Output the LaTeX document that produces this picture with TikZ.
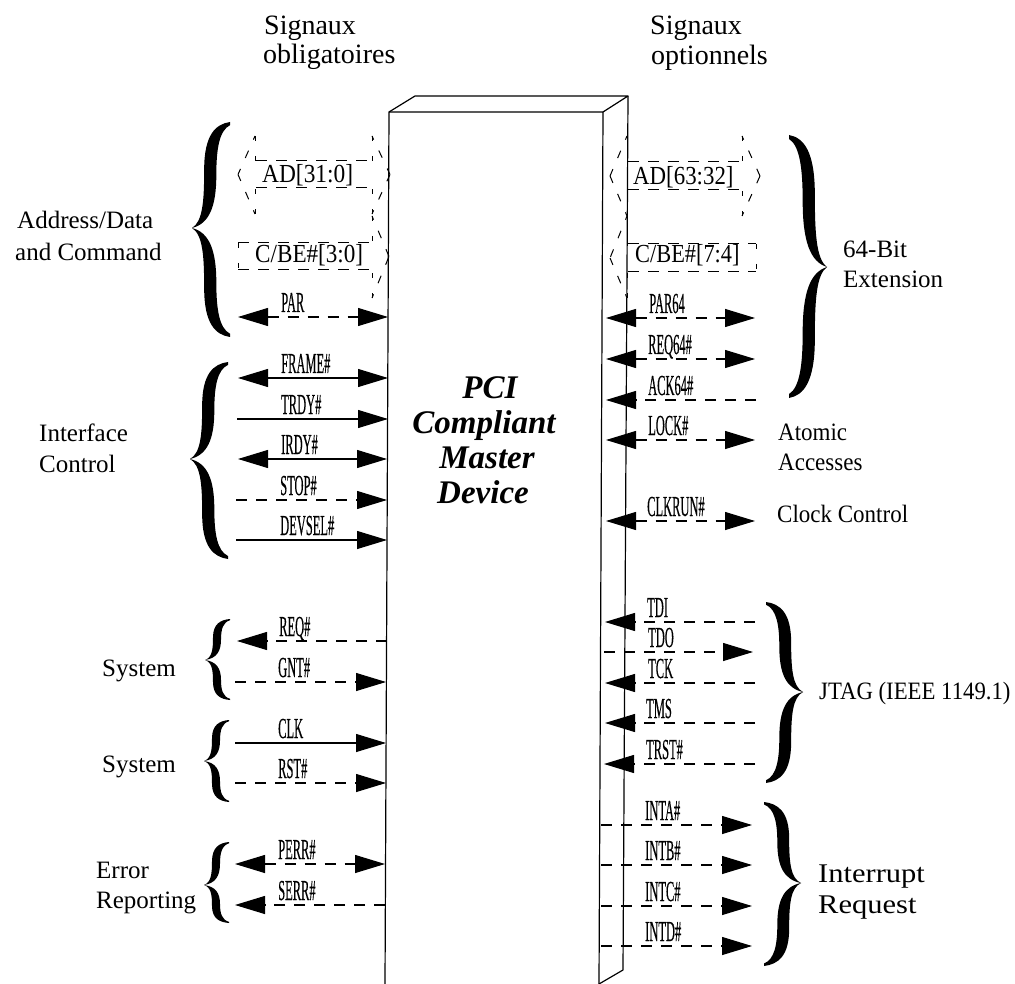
\documentclass[tikz,border=0pt]{standalone}
\usepackage{graphicx}
\usepackage{fontspec}
\setmainfont{Liberation Serif}
\newfontfamily\sigfont[FakeBold=0.5]{Liberation Serif}
\usetikzlibrary{arrows.meta}
\tikzset{
  >={Triangle[length=30pt,width=18pt]},
  wire/.style={line width=1.1pt},
  dashwire/.style={wire,dash pattern=on 11pt off 9pt},
  boxline/.style={line width=1.2pt,line join=round},
  hrun/.style={line width=1pt,dash pattern=on 11pt off 9pt},
  vrun/.style={line width=1pt,dash pattern=on 5pt off 15pt},
  srun/.style={line width=1pt,dash pattern=on 8pt off 12pt,dash phase=4pt},
  siglabel/.style={anchor=base west,inner sep=0pt,font=\fontsize{29}{29}\sigfont},
  txt/.style={anchor=base west,inner sep=0pt,font=\fontsize{25}{25}\selectfont},
  headtxt/.style={anchor=base west,inner sep=0pt,font=\fontsize{28}{28}\selectfont},
  bigsig/.style={anchor=base west,inner sep=0pt,font=\fontsize{26}{26}\selectfont},
  titletxt/.style={anchor=base,inner sep=0pt,font=\fontsize{33}{33}\selectfont\bfseries\itshape}
}
% name, x1, x2, y, arrow/line style, label x, label
\newcommand{\sigrow}[7]{%
  \coordinate (#1-a) at (#2,#4);
  \coordinate (#1-b) at (#3,#4);
  \draw[#5] (#1-a) -- (#1-b);
  \node[siglabel] (#1-l) at (#6,#4-5) {\scalebox{.43}[1]{#7}};
}
% one half of a curly brace in unit coordinates
\newcommand{\curlyhalf}{%
  \fill (1,-1) .. controls (.62,-.98) and (.32,-.88) .. (.32,-.55)
    .. controls (.32,-.25) and (.28,-.06) .. (0,0)
    .. controls (.45,-.04) and (.64,-.2) .. (.64,-.5)
    .. controls (.64,-.75) and (.72,-.92) .. (1,-.97) -- cycle;
}
% tip x, tip y, end x, top y, bottom y
\newcommand{\curly}[5]{%
  \pgfmathsetmacro{\cdx}{#3-#1}
  \pgfmathsetmacro{\cup}{#2-#4}
  \pgfmathsetmacro{\cdn}{#2-#5}
  \begin{scope}[shift={(#1,#2)},xscale=\cdx,yscale=\cup]\curlyhalf\end{scope}
  \begin{scope}[shift={(#1,#2)},xscale=\cdx,yscale=\cdn]\curlyhalf\end{scope}
}
% barb x, tip x, barb top, notch top, notch bottom, barb bottom
\newcommand{\arrowcap}[6]{%
  \pgfmathsetmacro{\cmid}{(#4+#5)/2}
  \draw[vrun] (#1,#3) -- (#1,#4);
  \draw[vrun] (#1,#6) -- (#1,#5);
  \draw[srun] (#1,#3) -- (#2,\cmid);
  \draw[srun] (#1,#6) -- (#2,\cmid);
}
\begin{document}
\begin{tikzpicture}[x=1pt,y=-1pt]
\path (0,0) rectangle (1015,984);
\clip (0,0) rectangle (1015,984);

% device
\coordinate (tl) at (389,112);
\coordinate (tr) at (603,112);
\coordinate (bl) at (385,984);
\coordinate (br) at (599,984);
\coordinate (btl) at (415,96);
\coordinate (btr) at (628,96);
\coordinate (bbr) at (623,970);
\draw[boxline] (bl) -- (tl) -- (tr) -- (br);
\draw[boxline] (tl) -- (btl) -- (btr) -- (tr);
\draw[boxline] (btr) -- (bbr) -- (br);

\node[titletxt] (t1) at (490,399) {PCI};
\node[titletxt] (t2) at (484,433) {Compliant};
\node[titletxt] (t3) at (487,468) {Master};
\node[titletxt] (t4) at (483,503) {Device};

% left block arrows
\arrowcap{255}{238}{136}{161}{188}{214}
\arrowcap{372}{390}{136}{161}{188}{214}
\draw[hrun] (256,161) -- (372,161);
\draw[hrun] (256,188) -- (372,188);
\node[bigsig] (ad31) at (262,183) {\scalebox{.9}[1]{AD[31:0]}};
\arrowcap{372}{389}{216}{243}{270}{298}
\draw[hrun] (238,243) -- (372,243);
\draw[hrun] (238,270) -- (372,270);
\draw[vrun] (238,243) -- (238,270);
\node[bigsig] (cbe3) at (255,263) {\scalebox{.89}[1]{C/BE\#[3:0]}};

% right block arrows
\arrowcap{627}{610}{136}{162}{190}{216}
\arrowcap{742}{760}{136}{162}{190}{216}
\draw[hrun] (628,162) -- (742,162);
\draw[hrun] (628,190) -- (742,190);
\node[bigsig] (ad63) at (633,185) {\scalebox{.88}[1]{AD[63:32]}};
\arrowcap{627}{610}{216}{244}{272}{298}
\draw[hrun] (628,244) -- (756,244);
\draw[hrun] (628,272) -- (756,272);
\draw[vrun] (756,244) -- (756,272);
\node[bigsig] (cbe7) at (635,263) {\scalebox{.86}[1]{C/BE\#[7:4]}};

% left signals
\sigrow{par}{238}{388}{317}{dashwire,<->}{281}{PAR}
\sigrow{frame}{238}{388}{378}{wire,<->}{281}{FRAME\#}
\sigrow{trdy}{237}{388}{419}{wire,->}{281}{TRDY\#}
\sigrow{irdy}{238}{387}{459}{wire,<->}{281}{IRDY\#}
\sigrow{stop}{236}{387}{500}{dashwire,->}{280}{STOP\#}
\sigrow{devsel}{236}{387}{540}{wire,->}{280}{DEVSEL\#}
\sigrow{req}{387}{237}{641}{dashwire,->}{279}{REQ\#}
\sigrow{gnt}{235}{386}{682}{dashwire,->}{278}{GNT\#}
\sigrow{clk}{235}{386}{743}{wire,->}{278}{CLK}
\sigrow{rst}{235}{386}{783}{dashwire,->}{278}{RST\#}
\sigrow{perr}{235}{385}{864}{dashwire,<->}{278}{PERR\#}
\sigrow{serr}{385}{235}{905}{dashwire,->}{278}{SERR\#}

% right signals
\sigrow{par64}{606}{755}{318}{dashwire,<->}{649}{PAR64}
\sigrow{req64}{606}{755}{359}{dashwire,<->}{648}{REQ64\#}
\sigrow{ack64}{756}{606}{400}{dashwire,->}{648}{ACK64\#}
\sigrow{lock}{606}{755}{440}{dashwire,<->}{648}{LOCK\#}
\sigrow{clkrun}{606}{755}{521}{dashwire,<->}{647}{CLKRUN\#}
\sigrow{tdi}{755}{605}{622}{dashwire,->}{647}{TDI}
\sigrow{tdo}{604}{753}{652}{dashwire,->}{648}{TDO}
\sigrow{tck}{755}{605}{683}{dashwire,->}{648}{TCK}
\sigrow{tms}{755}{605}{723}{dashwire,->}{646}{TMS}
\sigrow{trst}{755}{604}{764}{dashwire,->}{646}{TRST\#}
\sigrow{inta}{601}{752}{825}{dashwire,->}{645}{INTA\#}
\sigrow{intb}{601}{752}{865}{dashwire,->}{645}{INTB\#}
\sigrow{intc}{601}{752}{906}{dashwire,->}{645}{INTC\#}
\sigrow{intd}{601}{752}{946}{dashwire,->}{645}{INTD\#}

% braces
\curly{192}{228}{230}{122}{337}
\curly{190}{459}{228}{362}{559}
\curly{205}{660}{230}{619}{700}
\curly{204}{761}{229}{720}{802}
\curly{204}{885}{229}{842}{923}
\curly{827}{267}{789}{135}{398}
\curly{803}{692}{766}{602}{783}
\curly{801}{883}{764}{802}{966}

% texts
\node[headtxt] (h1a) at (264,35) {Signaux};
\node[headtxt] (h1b) at (263,64) {obligatoires};
\node[headtxt] (h2a) at (650,35) {Signaux};
\node[headtxt] (h2b) at (651,65) {optionnels};
\node[txt] (g1a) at (17,229) {Address/Data};
\node[txt] (g1b) at (15,261) {and Command};
\node[txt] (g2a) at (39,441) {Interface};
\node[txt] (g2b) at (39,472) {Control};
\node[txt] (g3) at (102,676) {System};
\node[txt] (g4) at (102,772) {System};
\node[txt] (g5a) at (96,878) {Error};
\node[txt] (g5b) at (96,908) {Reporting};
\node[txt] (g6a) at (843,258) {64-Bit};
\node[txt] (g6b) at (843,288) {Extension};
\node[txt] (g7a) at (778,440) {\scalebox{.92}[1]{Atomic}};
\node[txt] (g7b) at (778,470) {\scalebox{.92}[1]{Accesses}};
\node[txt] (g8) at (777,522) {\scalebox{.92}[1]{Clock Control}};
\node[txt] (g9) at (819,699) {\scalebox{.91}[1]{JTAG (IEEE 1149.1)}};
\node[txt,font=\fontsize{27}{27}\selectfont] (g10a) at (818,882) {\scalebox{1.13}[1]{Interrupt}};
\node[txt,font=\fontsize{27}{27}\selectfont] (g10b) at (818,913) {\scalebox{1.13}[1]{Request}};
\end{tikzpicture}
\end{document}
